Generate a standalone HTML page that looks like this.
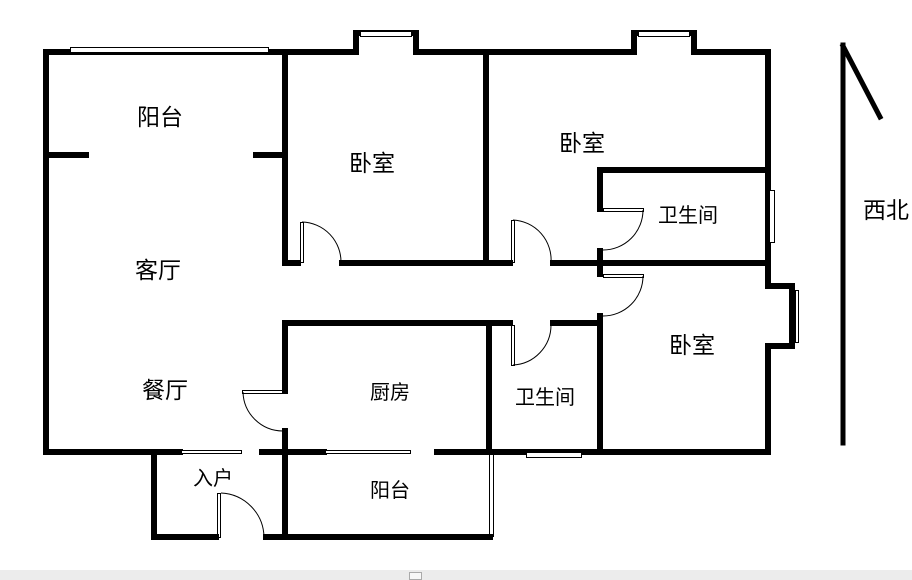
<!DOCTYPE html>
<html><head><meta charset="utf-8"><style>
body{margin:0;background:#fff;width:912px;height:580px;overflow:hidden}
svg{display:block}
text{font-family:"Liberation Sans","Noto Sans CJK SC",sans-serif;fill:#000}
</style></head><body>
<svg width="912" height="580" viewBox="0 0 912 580" xmlns="http://www.w3.org/2000/svg">
<g stroke="#000" stroke-width="6" fill="none" stroke-linecap="square">
<line x1="46" y1="52" x2="356" y2="52"/>
<line x1="416" y1="52" x2="634" y2="52"/>
<line x1="694" y1="52" x2="768" y2="52"/>
<polyline points="356,52 356,33 416,33 416,52"/>
<polyline points="634,52 634,33 694,33 694,52"/>
<line x1="46" y1="52" x2="46" y2="450"/>
<line x1="46" y1="155" x2="86" y2="155"/>
<line x1="256" y1="155" x2="285" y2="155"/>
<line x1="285" y1="52" x2="285" y2="263"/>
<line x1="285" y1="263" x2="298" y2="263"/>
<line x1="342" y1="263" x2="510" y2="263"/>
<line x1="486" y1="52" x2="486" y2="263"/>
<line x1="553" y1="263" x2="768" y2="263"/>
<line x1="768" y1="52" x2="768" y2="286"/>
<polyline points="768,286 792,286 792,346 768,346"/>
<line x1="768" y1="346" x2="768" y2="450"/>
<line x1="600" y1="170" x2="768" y2="170"/>
<line x1="600" y1="170" x2="600" y2="209"/>
<line x1="600" y1="251" x2="600" y2="274"/>
<line x1="600" y1="316" x2="600" y2="450"/>
<line x1="285" y1="323" x2="510" y2="323"/>
<line x1="553" y1="323" x2="600" y2="323"/>
<line x1="285" y1="323" x2="285" y2="391"/>
<line x1="285" y1="431" x2="285" y2="537"/>
<line x1="489" y1="323" x2="489" y2="450"/>
<line x1="46" y1="452" x2="180" y2="452"/>
<line x1="262" y1="452" x2="324" y2="452"/>
<line x1="437" y1="452" x2="768" y2="452"/>
<line x1="154" y1="452" x2="154" y2="537"/>
<line x1="154" y1="537" x2="216" y2="537"/>
<line x1="266" y1="537" x2="490" y2="537"/>
<line x1="843" y1="45" x2="843" y2="443" stroke-width="5"/>
<line x1="843" y1="46" x2="880" y2="117" stroke-width="5"/>
</g>
<g stroke="#000" stroke-width="1" fill="#fff">
<rect x="70.5" y="47.5" width="198" height="5"/>
<rect x="360.5" y="31.5" width="51" height="5"/>
<rect x="638.5" y="31.5" width="51" height="5"/>
<rect x="769.5" y="190.5" width="5" height="52"/>
<rect x="795.5" y="290.5" width="3" height="52"/>
<rect x="526.5" y="452.5" width="55" height="5"/>
<rect x="181.5" y="450.5" width="60" height="3"/>
<rect x="325.5" y="450.5" width="85" height="3"/>
<line x1="489.5" y1="452" x2="489.5" y2="537"/>
<line x1="493.5" y1="452" x2="493.5" y2="537"/>
</g>
<g stroke="#000" stroke-width="1" fill="none">
<rect x="300.5" y="222.5" width="3" height="40"/>
<path d="M302,222 A40,40 0 0 1 341,263"/>
<rect x="511.5" y="220.5" width="3" height="42"/>
<path d="M513,220 A40,40 0 0 1 551,263"/>
<rect x="603.5" y="208.5" width="40" height="3"/>
<path d="M643,210 A40,40 0 0 1 603,250"/>
<rect x="603.5" y="274.5" width="40" height="3"/>
<path d="M643,276 A40,40 0 0 1 603,316"/>
<rect x="511.5" y="325.5" width="3" height="40"/>
<path d="M513,365 A40,40 0 0 0 551,325"/>
<rect x="242.5" y="390.5" width="40" height="3"/>
<path d="M243,392 A40,40 0 0 0 283,431"/>
<rect x="217.5" y="493.5" width="3" height="44"/>
<path d="M221,493 A45,45 0 0 1 264,537"/>
</g>
<g font-size="23" text-anchor="middle">
<text x="160" y="125">阳台</text>
<text x="372" y="171">卧室</text>
<text x="582" y="151">卧室</text>
<text x="158" y="278">客厅</text>
<text x="692" y="353">卧室</text>
<text x="165" y="398">餐厅</text>
<text x="886" y="218">西北</text>
</g>
<g font-size="20" text-anchor="middle">
<text x="688" y="222">卫生间</text>
<text x="390" y="399">厨房</text>
<text x="545" y="404">卫生间</text>
<text x="213" y="485">入户</text>
<text x="390" y="497">阳台</text>
</g>
<rect x="0" y="570" width="912" height="10" fill="#ececec"/>
<rect x="409.5" y="572.5" width="12" height="7" fill="#f8f8f8" stroke="#aaa"/>
</svg>
</body></html>
